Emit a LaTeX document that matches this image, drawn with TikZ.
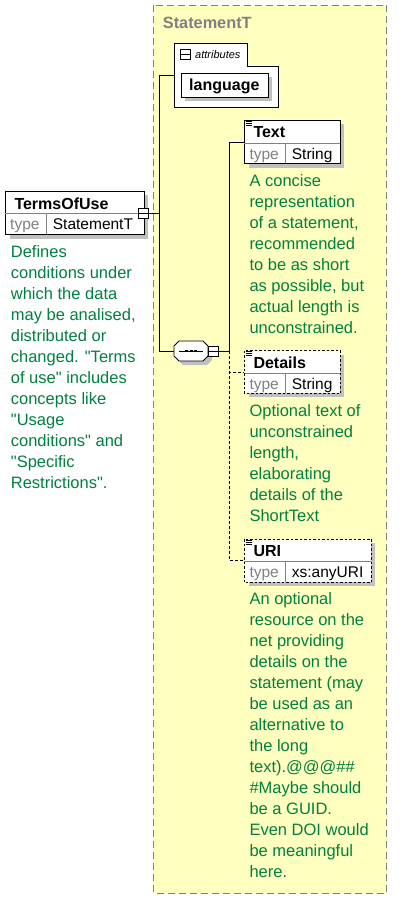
\documentclass[tikz,border=0pt]{standalone}
\usepackage{fontspec}
\setmainfont{Liberation Sans}[Ligatures=TeXOff]
\definecolor{ybg}{RGB}{255,255,192}
\definecolor{dgreen}{RGB}{0,128,64}
\definecolor{shad}{RGB}{192,192,192}
\definecolor{gline}{RGB}{128,128,128}
\begin{document}
\begin{tikzpicture}[x=1pt,y=-1pt,
  desc/.style={anchor=base west, inner sep=0, align=left, text=dgreen, font=\fontsize{16.5}{21}\selectfont},
  boxline/.style={draw=black, line width=0.8pt},
  ebox/.style={boxline, fill=white, anchor=north west, inner sep=0},
  shadowbox/.style={fill=shad, draw=none, anchor=north west, inner sep=0},
  nametext/.style={anchor=base west, inner sep=0, font=\bfseries\fontsize{16}{16}\selectfont},
  typetext/.style={anchor=base west, inner sep=0, text=gline, font=\fontsize{15.5}{16}\selectfont},
  valtext/.style={anchor=base west, inner sep=0, font=\fontsize{15.5}{16}\selectfont},
  divline/.style={draw=gline, line width=0.8pt},
  conn/.style={draw=black, line width=0.8pt},
  dconn/.style={draw=black, line width=0.8pt, dash pattern=on 3pt off 2pt},
  consq/.style={draw=black, fill=white, line width=0.8pt, minimum width=10, minimum height=10, inner sep=0},
  dashbox/.style={dash pattern=on 2.5pt off 2pt}
]
\useasboundingbox (0,0) rectangle (405,899);
\fill[white] (0,0) rectangle (405,899);

% complex type container
\draw[fill=ybg, draw=gline, line width=1pt, dash pattern=on 7pt off 4pt] (153.3,5.3) rectangle (386.7,893);
\node[anchor=base west, inner sep=0, text=gline, font=\bfseries\fontsize{16.3}{16}\selectfont] (title) at (162.7,28.3) {StatementT};

% attributes group
\draw[boxline, fill=white] (174.3,43) -- (247,43) -- (247,66.7) -- (278.3,66.7) -- (278.3,107) -- (174.3,107) -- cycle;
\node[draw=black, line width=0.8pt, fill=white, minimum width=9.7, minimum height=10, inner sep=0] (minus) at (185.2,54.3) {};
\draw[line width=0.8pt] (minus.west) -- (minus.east);
\node[anchor=base west, inner sep=0, font=\itshape\fontsize{11}{11}\selectfont] (attrl) at (195,58.3) {attributes};
\coordinate (attrin) at (174.3,75);
\node[shadowbox, minimum width=86.7, minimum height=23.7] (langsh) at (185,77) {};
\node[ebox, minimum width=86.7, minimum height=23.7] (lang) at (181,73) {};
\node[anchor=base, inner sep=0, font=\bfseries\fontsize{16}{16}\selectfont] (langt) at (224.3,90.5) {language};

% TermsOfUse element
\node[shadowbox, minimum width=138.4, minimum height=43.3] (tousha) at (9.3,195) {};
\node[ebox, minimum width=138.4, minimum height=43.3] (tou) at (5.3,191) {};
\draw[divline] (5.3,213.5) -- (143.7,213.5);
\draw[divline] (46.7,213.5) -- (46.7,234.3);
\node[nametext] (toun) at (14.3,209) {TermsOfUse};
\node[typetext] (tout) at (10,229.3) {type};
\node[valtext] (touv) at (52.7,229.3) {StatementT};
\node[consq] (toucon) at (143.5,213.5) {};
\draw[line width=0.8pt] (toucon.west) -- (toucon.east);
\node[desc] (toud) at (10.7,488) {Defines\\conditions under\\which the data\\may be analised,\\distributed or\\changed. "Terms\\of use" includes\\concepts like\\"Usage\\conditions" and\\"Specific\\Restrictions".};

% sequence compositor
\fill[shad] (178,350) -- (183,345) -- (207,345) -- (212,350) -- (212,360) -- (207,365) -- (183,365) -- (178,360) -- cycle;
\draw[boxline, fill=white] (174,346) -- (179,341) -- (203,341) -- (208,346) -- (208,356) -- (203,361) -- (179,361) -- (174,356) -- cycle;
\coordinate (seqin) at (174,351);
\draw[line width=0.8pt] (179,351) -- (203,351);
\foreach \dx in {186.5,191,195.5} \fill (\dx-1.5,349.6) rectangle (\dx+1.5,352.4);
\node[consq] (seqcon) at (213.5,351) {};
\draw[line width=0.8pt] (seqcon.west) -- (seqcon.east);

% connectors
\coordinate (j1) at (159.5,213.5);
\draw[conn] (toucon.east) -- (j1);
\draw[conn] (attrin) -| (j1) |- (seqin);
\coordinate (j2) at (229.5,351);
\draw[conn] (seqcon.east) -- (j2);

% Text element
\node[shadowbox, minimum width=95.4, minimum height=43.3] (txtsh) at (248.3,124) {};
\node[ebox, minimum width=95.4, minimum height=43.3] (txt) at (244.3,120) {};
\draw[divline] (244.3,143.3) -- (339.7,143.3);
\draw[divline] (285.5,143.3) -- (285.5,163.3);
\foreach \yy in {121,123,125} \draw[line width=0.7pt] (245.7,\yy) -- (251.7,\yy);
\node[nametext] (txtn) at (253.3,137.7) {Text};
\node[typetext] (txtt) at (249.3,159.3) {type};
\node[valtext] (txtv) at (291.7,159.3) {String};
\node[desc] (txtd) at (249.3,333) {A concise\\representation\\of a statement,\\recommended\\to be as short\\as possible, but\\actual length is\\unconstrained.};
\draw[conn] (j2) |- (txt.west);

% Details element
\node[shadowbox, minimum width=95.7, minimum height=42] (detsh) at (248.3,354.7) {};
\node[ebox, draw=none, minimum width=95.7, minimum height=42] (det) at (244.3,350.7) {};
\draw[divline] (244.3,373.3) -- (340,373.3);
\draw[divline] (285.7,373.3) -- (285.7,392.7);
\draw[line width=0.8pt, dashbox] (det.north west) rectangle (det.south east);
\foreach \yy in {351.7,353.7,355.7} \draw[line width=0.7pt] (245.7,\yy) -- (251.7,\yy);
\node[nametext] (detn) at (253.3,368.4) {Details};
\node[typetext] (dett) at (249.3,389.3) {type};
\node[valtext] (detv) at (291.7,389.3) {String};
\node[desc] (detd) at (249.3,521) {Optional text of\\unconstrained\\length,\\elaborating\\details of the\\ShortText};
\draw[dconn] (j2) |- (det.west);

% URI element
\node[shadowbox, minimum width=126.4, minimum height=42.7] (urish) at (248.3,543) {};
\node[ebox, draw=none, minimum width=126.4, minimum height=42.7] (uri) at (244.3,539) {};
\draw[divline] (244.3,561.7) -- (370.7,561.7);
\draw[divline] (285.7,561.7) -- (285.7,581.7);
\draw[line width=0.8pt, dashbox] (uri.north west) rectangle (uri.south east);
\foreach \yy in {540,542,544} \draw[line width=0.7pt] (245.7,\yy) -- (251.7,\yy);
\node[nametext] (urin) at (253.3,556.7) {URI};
\node[typetext] (urit) at (249.3,577.7) {type};
\node[valtext] (uriv) at (291.7,577.7) {xs:anyURI};
\node[desc] (urid) at (249.3,877.3) {An optional\\resource on the\\net providing\\details on the\\statement (may\\be used as an\\alternative to\\the long\\text).@@@\#\#\\\#Maybe should\\be a GUID.\\Even DOI would\\be meaningful\\here.};
\draw[dconn] (j2) |- (uri.west);
\end{tikzpicture}
\end{document}
